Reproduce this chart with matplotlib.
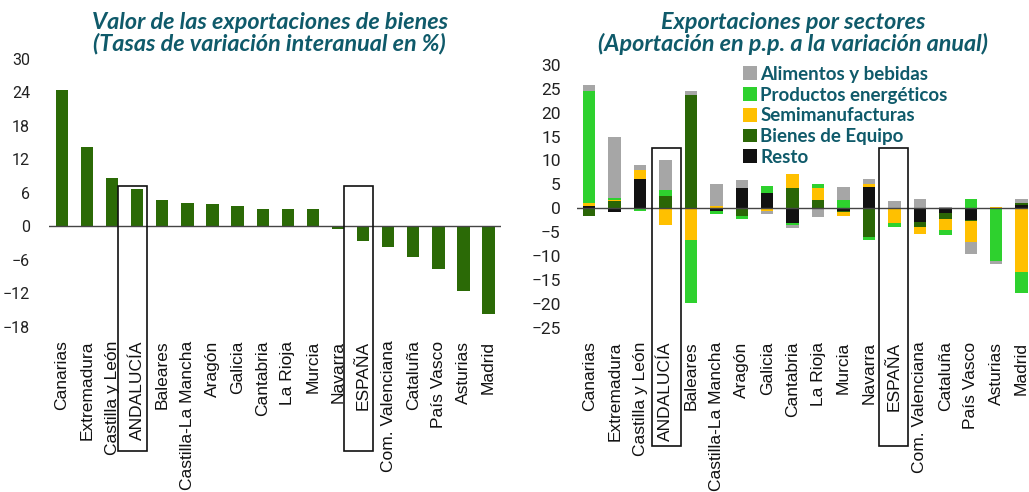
import matplotlib
matplotlib.use("Agg")
import matplotlib.pyplot as plt
from matplotlib.patches import Rectangle
import numpy as np

regions = ["Canarias", "Extremadura", "Castilla y León", "ANDALUCÍA", "Baleares",
           "Castilla-La Mancha", "Aragón", "Galicia", "Cantabria", "La Rioja", "Murcia",
           "Navarra", "ESPAÑA", "Com. Valenciana", "Cataluña", "País Vasco", "Asturias", "Madrid"]

growth = [24.4, 14.1, 8.6, 6.6, 4.7, 4.1, 4.0, 3.6, 3.1, 3.1, 3.0,
          -0.6, -2.6, -3.8, -5.5, -7.6, -11.6, -15.7]

# sector contributions (p.p.)
resto = [0.5, -0.85, 6.2, 0.0, 0.0, -0.5, 4.2, 3.2, -3.0, 0.0, -0.5,
         4.5, 0.0, -2.8, -0.9, -2.4, 0.0, 0.6]
bienes = [-1.7, 1.5, 0.0, 2.6, 23.7, 0.0, -1.7, 0.0, 4.2, 1.7, -0.2,
          -6.1, 0.0, -1.15, -1.25, -0.2, 0.0, 0.6]
semi = [0.7, 0.25, 1.9, -3.6, -6.6, 0.4, 0.0, -0.5, 2.95, 2.6, -0.9,
        0.55, -3.1, -1.4, -2.3, -4.4, 0.3, -13.3]
energ = [23.4, 0.3, -0.65, 1.3, -13.3, -0.6, -0.5, 1.5, -0.55, 0.7, 1.65,
         -0.55, -0.9, 0.0, -1.05, 2.0, -11.1, -4.5]
alim = [1.2, 12.8, 1.0, 6.3, 0.8, 4.6, 1.8, -0.6, -0.55, -1.9, 2.9,
        1.05, 1.6, 1.95, 0.35, -2.6, -0.55, 0.8]

series_names = ["Resto", "Bienes de Equipo", "Semimanufacturas",
                "Productos energéticos", "Alimentos y bebidas"]
series_vals = [resto, bienes, semi, energ, alim]
series_cols = ["#111111", "#2A6606", "#FFC000", "#2ED12E", "#A6A6A6"]

title_col = "#0F5A6A"
lab_font = "Liberation Sans"
tick_font = "Roboto"

fig = plt.figure(figsize=(10.29, 4.92), dpi=100)

x = np.arange(len(regions))

# ---------------- left panel ----------------
ax1 = fig.add_axes([0.048, 0.336, 0.439, 0.545])
ax1.bar(x, growth, width=0.49, color="#2B6A06")
ax1.axhline(0, color="#444444", lw=1)
ax1.set_xlim(-0.5, 17.5)
ax1.set_ylim(-18, 30)
ax1.set_yticks(np.arange(-18, 31, 6))
ax1.set_xticks(x)
ax1.set_xticklabels(regions, rotation=90, fontsize=12.5, family=lab_font, color="#111111")
for lbl in ax1.get_yticklabels():
    lbl.set_fontfamily(tick_font)
    lbl.set_fontsize(11.5)
    lbl.set_color("#222222")
ax1.tick_params(axis="both", length=0)
ax1.tick_params(axis="y", pad=14)
ax1.tick_params(axis="x", pad=10)
for s in ax1.spines.values():
    s.set_visible(False)

for idx in (3, 12):
    r = Rectangle((idx - 0.76, -40.2), 1.16, 40.2 + 7.1, fill=False,
                  ec="#111111", lw=1.2, clip_on=False, zorder=5)
    ax1.add_patch(r)

fig.text(0.262, 0.932, "Valor de las exportaciones de bienes\n(Tasas de variación interanual en %)",
         ha="center", va="center", fontsize=16.8, color=title_col,
         family="Lato", weight="bold", style="italic", linespacing=1.0)

# ---------------- right panel ----------------
ax2 = fig.add_axes([0.561, 0.334, 0.438, 0.534])
pos_base = np.zeros(len(regions))
neg_base = np.zeros(len(regions))
for name, vals, col in zip(series_names, series_vals, series_cols):
    v = np.array(vals)
    pos = np.where(v > 0, v, 0)
    neg = np.where(v < 0, v, 0)
    ax2.bar(x, pos, bottom=pos_base, width=0.49, color=col, label=name)
    ax2.bar(x, neg, bottom=neg_base, width=0.49, color=col)
    pos_base += pos
    neg_base += neg
ax2.axhline(0, color="#444444", lw=1)
ax2.set_xlim(-0.47, 17.25)
ax2.set_ylim(-25, 30)
ax2.set_yticks(np.arange(-25, 31, 5))
ax2.set_xticks(x)
ax2.set_xticklabels(regions, rotation=90, fontsize=12.5, family=lab_font, color="#111111")
for lbl in ax2.get_yticklabels():
    lbl.set_fontfamily(tick_font)
    lbl.set_fontsize(12.5)
    lbl.set_color("#222222")
ax2.tick_params(axis="both", length=0)
ax2.tick_params(axis="y", pad=12)
ax2.tick_params(axis="x", pad=10)
for s in ax2.spines.values():
    s.set_visible(False)

for idx, off in ((3, -0.53), (12, -0.61)):
    r = Rectangle((idx + off, -49.7), 1.14, 49.7 + 12.7, fill=False,
                  ec="#111111", lw=1.2, clip_on=False, zorder=5)
    ax2.add_patch(r)

handles, labels = ax2.get_legend_handles_labels()
leg = ax2.legend(handles[::-1], labels[::-1], loc="upper left",
                 bbox_to_anchor=(0.35, 1.025), frameon=False,
                 handlelength=0.75, handleheight=0.75, handletextpad=0.2,
                 labelspacing=0.2, borderaxespad=0,
                 prop={"family": "Lato", "weight": "bold", "size": 13.5},
                 labelcolor="#0F5A6A")

fig.text(0.771, 0.932, "Exportaciones por sectores\n(Aportación en p.p. a la variación anual)",
         ha="center", va="center", fontsize=16.8, color=title_col,
         family="Lato", weight="bold", style="italic", linespacing=1.0)

fig.savefig("out.png", dpi=100)
